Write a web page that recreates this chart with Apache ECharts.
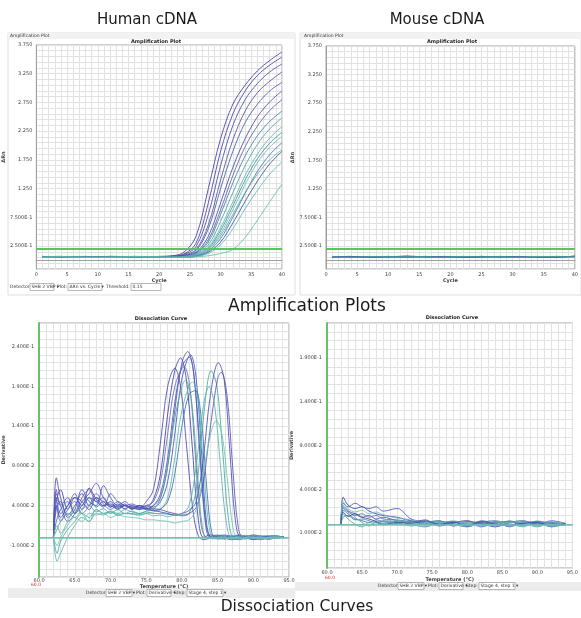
<!DOCTYPE html>
<html>
<head>
<meta charset="utf-8">
<script src="https://cdn.jsdelivr.net/npm/echarts@6/dist/echarts.min.js"></script>
<style>
  html, body { margin: 0; padding: 0; background: #fff; }
  #chart { width: 581px; height: 618px; }
</style>
</head>
<body>
<div id="chart"></div>
<script>
// amplification: delta Rn read at these cycles
const ampCycles = [1, 4, 8, 12, 16, 20, 22, 24, 26, 28, 30, 32, 34, 36, 38, 40];

const humanAmp = [
  [0.06, 0.07, 0.05, 0.06, 0.05, 0.07, 0.08, 0.14, 0.42, 1.25, 2.12, 2.72, 3.05, 3.30, 3.48, 3.63],
  [0.05, 0.06, 0.06, 0.05, 0.06, 0.06, 0.07, 0.11, 0.30, 1.00, 1.90, 2.55, 2.95, 3.22, 3.40, 3.54],
  [0.07, 0.05, 0.06, 0.06, 0.05, 0.06, 0.07, 0.10, 0.24, 0.80, 1.65, 2.35, 2.80, 3.08, 3.28, 3.42],
  [0.06, 0.06, 0.05, 0.07, 0.06, 0.05, 0.06, 0.09, 0.19, 0.62, 1.40, 2.10, 2.60, 2.92, 3.12, 3.28],
  [0.05, 0.06, 0.06, 0.05, 0.05, 0.06, 0.06, 0.08, 0.17, 0.55, 1.25, 1.90, 2.40, 2.72, 2.95, 3.10],
  [0.06, 0.05, 0.06, 0.06, 0.07, 0.06, 0.06, 0.08, 0.14, 0.42, 1.00, 1.62, 2.12, 2.50, 2.76, 2.95],
  [0.06, 0.06, 0.05, 0.06, 0.05, 0.06, 0.07, 0.07, 0.13, 0.36, 0.88, 1.48, 1.98, 2.34, 2.61, 2.80],
  [0.05, 0.06, 0.07, 0.05, 0.06, 0.05, 0.06, 0.07, 0.12, 0.32, 0.80, 1.35, 1.82, 2.17, 2.42, 2.60],
  [0.06, 0.05, 0.06, 0.06, 0.06, 0.06, 0.05, 0.07, 0.11, 0.27, 0.68, 1.18, 1.65, 2.02, 2.29, 2.48],
  [0.06, 0.06, 0.05, 0.06, 0.05, 0.06, 0.06, 0.06, 0.10, 0.23, 0.57, 1.02, 1.48, 1.85, 2.13, 2.33],
  [0.05, 0.06, 0.06, 0.07, 0.06, 0.05, 0.06, 0.06, 0.09, 0.21, 0.52, 0.95, 1.40, 1.77, 2.04, 2.23],
  [0.06, 0.05, 0.06, 0.05, 0.06, 0.06, 0.05, 0.06, 0.09, 0.19, 0.47, 0.88, 1.32, 1.70, 1.97, 2.16],
  [0.06, 0.06, 0.06, 0.05, 0.05, 0.06, 0.06, 0.06, 0.08, 0.16, 0.38, 0.75, 1.17, 1.55, 1.84, 2.05],
  [0.05, 0.06, 0.05, 0.06, 0.06, 0.05, 0.06, 0.06, 0.08, 0.18, 0.43, 0.80, 1.18, 1.50, 1.75, 1.93],
  [0.06, 0.05, 0.06, 0.06, 0.05, 0.06, 0.06, 0.05, 0.07, 0.14, 0.32, 0.65, 1.03, 1.38, 1.68, 1.90],
  [0.06, 0.06, 0.05, 0.06, 0.06, 0.06, 0.05, 0.06, 0.07, 0.12, 0.27, 0.55, 0.90, 1.22, 1.50, 1.72],
  [0.05, 0.06, 0.06, 0.05, 0.06, 0.06, 0.06, 0.05, 0.06, 0.08, 0.12, 0.19, 0.40, 0.70, 1.02, 1.33]
];
const humanAmpColors = ['#3e3f9c', '#4b3f96', '#3f4fa8', '#5a4a9e', '#3d5fae', '#4a4aa0',
  '#5b62b0', '#3f7fae', '#4aa39a', '#5fb8aa', '#3f8ea6', '#6ac0b2', '#4a6fb0',
  '#58b0a4', '#3f4fa0', '#5fbcaf', '#62bfb1'];

const mouseCycles = [1, 4, 7, 10, 13, 16, 19, 22, 25, 28, 31, 34, 37, 40];
const mouseAmp = [
  [0.06, 0.07, 0.05, 0.06, 0.07, 0.06, 0.05, 0.06, 0.07, 0.06, 0.05, 0.06, 0.06, 0.07],
  [0.05, 0.06, 0.06, 0.05, 0.06, 0.07, 0.06, 0.05, 0.06, 0.07, 0.06, 0.05, 0.07, 0.06],
  [0.07, 0.05, 0.06, 0.07, 0.05, 0.06, 0.07, 0.06, 0.05, 0.06, 0.07, 0.06, 0.05, 0.08],
  [0.06, 0.06, 0.07, 0.06, 0.06, 0.05, 0.06, 0.07, 0.06, 0.05, 0.06, 0.07, 0.06, 0.06],
  [0.05, 0.07, 0.06, 0.06, 0.08, 0.06, 0.06, 0.06, 0.07, 0.06, 0.06, 0.05, 0.06, 0.07],
  [0.06, 0.05, 0.06, 0.07, 0.06, 0.07, 0.05, 0.07, 0.06, 0.07, 0.05, 0.06, 0.07, 0.06]
];
const mouseAmpColors = ['#3e5f9e', '#4a8aa6', '#3f4f9c', '#5aa8a0', '#3d6fa8', '#4a9aa0'];

const threshold = 0.2;

// dissociation: [temperature, derivative]
const humanDiss = [
  [[62,0.002],[62.4,0.075],[63,0.05],[64,0.028],[65,0.04],[66,0.055],[67,0.04],[68,0.05],[69,0.045],[70,0.038],[71,0.042],[72,0.036],[73,0.04],[74,0.037],[75,0.045],[76,0.06],[77,0.12],[78,0.19],[79,0.213],[79.8,0.19],[80.7,0.11],[81.6,0.03],[82.3,0.002],[83,-0.003],[85,0.002],[87,-0.003],[89,0.001],[91,-0.002],[93,0.002],[94.3,-0.001]],
  [[62,0],[62.4,0.045],[63,0.06],[64,0.035],[65,0.05],[66,0.04],[67,0.062],[68,0.048],[69,0.04],[70,0.045],[71,0.035],[72,0.04],[73,0.036],[74,0.04],[75,0.038],[76,0.048],[77,0.08],[78,0.155],[79,0.21],[79.8,0.226],[80.6,0.2],[81.4,0.12],[82.2,0.03],[83,0],[84,0.003],[86,-0.002],[88,0.002],[90,-0.003],[92,0.001],[94.3,0]],
  [[62,0],[62.4,0.06],[63,0.04],[64,0.05],[65,0.03],[66,0.045],[67,0.055],[68,0.068],[69,0.05],[70,0.04],[71,0.038],[72,0.042],[73,0.035],[74,0.04],[75,0.036],[76,0.04],[77,0.05],[78,0.09],[79,0.16],[80,0.22],[80.8,0.234],[81.6,0.21],[82.4,0.12],[83.2,0.025],[84,0],[86,0.003],[88,-0.002],[90,0.002],[92,-0.002],[94.3,0.001]],
  [[62,0],[62.4,0.035],[63,0.045],[64,0.025],[65,0.035],[66,0.06],[67,0.045],[68,0.04],[69,0.065],[70,0.05],[71,0.04],[72,0.045],[73,0.038],[74,0.036],[75,0.04],[76,0.038],[77,0.045],[78,0.07],[79,0.13],[80,0.2],[81.2,0.23],[82,0.2],[82.8,0.1],[83.5,0.015],[84.3,-0.002],[86,0.002],[88,-0.003],[90,0.003],[92,-0.001],[94.3,0]],
  [[62,0],[62.4,0.05],[63,0.03],[64,0.04],[65,0.055],[66,0.035],[67,0.05],[68,0.045],[69,0.038],[70,0.055],[71,0.045],[72,0.04],[73,0.042],[74,0.038],[75,0.036],[76,0.04],[77,0.055],[78,0.1],[79,0.17],[80,0.215],[81,0.227],[81.8,0.195],[82.6,0.1],[83.4,0.015],[84.2,0],[86,-0.002],[88,0.003],[90,-0.002],[92,0.002],[94.3,-0.001]],
  [[62,0],[62.4,0.04],[63,0.02],[64,0.035],[65,0.045],[66,0.03],[67,0.04],[68,0.055],[69,0.042],[70,0.035],[71,0.04],[72,0.036],[73,0.04],[74,0.035],[75,0.04],[76,0.045],[77,0.07],[78,0.13],[79,0.19],[80.3,0.215],[81.1,0.19],[81.9,0.1],[82.7,0.015],[83.5,0],[85,0.003],[87,-0.002],[89,0.002],[91,-0.003],[93,0.001],[94.3,0]],
  [[62,0],[62.5,-0.02],[63,-0.005],[64,0.01],[65,0.02],[66,0.03],[67,0.025],[68,0.035],[69,0.03],[70,0.033],[71,0.03],[72,0.035],[73,0.032],[74,0.03],[75,0.033],[76,0.035],[77,0.05],[78,0.09],[79,0.15],[80,0.19],[80.5,0.198],[81.3,0.175],[82.1,0.09],[82.9,0.01],[83.7,-0.002],[85,0.002],[87,-0.003],[89,0.002],[91,-0.002],[93,0.002],[94.3,0]],
  [[62,0],[62.5,-0.03],[63,-0.02],[64,0],[65,0.015],[66,0.025],[67,0.02],[68,0.03],[69,0.028],[70,0.032],[71,0.028],[72,0.03],[73,0.03],[74,0.028],[75,0.03],[76,0.032],[77,0.035],[78,0.05],[79,0.1],[80,0.16],[81.5,0.196],[82.3,0.17],[83.1,0.08],[83.9,0.008],[84.7,-0.002],[86,0.002],[88,-0.002],[90,0.003],[92,-0.001],[94.3,0.001]],
  [[62,0],[62.4,0.02],[63,0.035],[64,0.045],[65,0.03],[66,0.04],[67,0.05],[68,0.038],[69,0.045],[70,0.04],[71,0.036],[72,0.04],[73,0.037],[74,0.035],[75,0.036],[76,0.034],[77,0.036],[78,0.045],[79,0.08],[80,0.14],[81,0.18],[81.9,0.185],[82.7,0.15],[83.5,0.06],[84.2,0.005],[85,-0.002],[87,0.002],[89,-0.002],[91,0.002],[93,-0.001],[94.3,0]],
  [[62,0],[62.5,0.01],[63,0.02],[64,0.03],[65,0.025],[66,0.035],[67,0.04],[68,0.032],[69,0.036],[70,0.03],[71,0.035],[72,0.03],[73,0.033],[74,0.03],[75,0.032],[76,0.03],[77,0.03],[78,0.029],[79,0.028],[80,0.027],[81,0.03],[82,0.06],[83,0.15],[84.1,0.21],[84.9,0.19],[85.7,0.11],[86.5,0.025],[87.3,0],[89,0.002],[91,-0.002],[93,0.002],[94.3,0]],
  [[62,0],[62.4,0.04],[63,0.025],[64,0.04],[65,0.05],[66,0.045],[67,0.035],[68,0.05],[69,0.04],[70,0.042],[71,0.038],[72,0.04],[73,0.036],[74,0.038],[75,0.035],[76,0.034],[77,0.032],[78,0.03],[79,0.028],[80,0.03],[81,0.034],[82,0.045],[83,0.1],[84,0.18],[85.1,0.22],[85.9,0.2],[86.7,0.11],[87.5,0.02],[88.3,0],[90,0.002],[92,-0.002],[94.3,0.001]],
  [[62,0],[62.4,0.055],[63,0.04],[64,0.02],[65,0.03],[66,0.05],[67,0.06],[68,0.045],[69,0.05],[70,0.038],[71,0.045],[72,0.04],[73,0.038],[74,0.04],[75,0.037],[76,0.036],[77,0.035],[78,0.032],[79,0.03],[80,0.028],[81,0.03],[82,0.038],[83,0.07],[84,0.14],[85,0.2],[85.5,0.208],[86.3,0.18],[87.1,0.09],[87.9,0.012],[88.7,-0.002],[90,0.002],[92,-0.002],[94.3,0]],
  [[62,0],[62.5,-0.01],[63,0],[64,0.015],[65,0.025],[66,0.02],[67,0.03],[68,0.028],[69,0.03],[70,0.025],[71,0.028],[72,0.026],[73,0.025],[74,0.024],[75,0.022],[76,0.022],[77,0.021],[78,0.02],[79,0.018],[80,0.02],[81,0.022],[82,0.035],[83,0.08],[84,0.13],[84.8,0.147],[85.6,0.13],[86.4,0.07],[87.2,0.01],[88,-0.002],[90,0.002],[92,-0.001],[94.3,0]],
  [[62,0],[62.5,0.015],[63,0.005],[64,0.02],[65,0.035],[66,0.03],[67,0.02],[68,0.035],[69,0.03],[70,0.032],[71,0.028],[72,0.03],[73,0.029],[74,0.028],[75,0.03],[76,0.027],[77,0.028],[78,0.026],[79,0.028],[80,0.03],[81,0.04],[82,0.09],[83,0.165],[83.8,0.19],[84.6,0.165],[85.4,0.09],[86.2,0.02],[87,0],[89,0.002],[91,-0.002],[93,0.001],[94.3,0]]
];
const humanDissColors = ['#4b4ab0', '#3d3fa8', '#5a4fb0', '#3f59b8', '#4a5cc0', '#6a6ab8', '#4aa89c',
  '#5bbaa8', '#3b6fb0', '#4aa89c', '#4a4fb8', '#5a55b0', '#6cc2b4', '#5bb5a8'];

const mouseTemps = [62, 62.3, 63, 64, 65, 66, 67, 68, 70, 72, 74, 76, 78, 80, 82, 84, 86, 88, 90, 92, 94];
const mouseDiss = [
  [0, 0.031, 0.022, 0.018, 0.02, 0.015, 0.012, 0.01, 0.008, 0.004, 0.002, 0.004, -0.002, 0.003, 0.001, -0.003, 0.002, 0.004, -0.001, 0.002, 0],
  [0, 0.024, 0.02, 0.024, 0.02, 0.018, 0.02, 0.015, 0.018, 0.006, 0.003, 0, 0.003, -0.002, 0.004, 0.001, -0.002, 0.003, 0, 0.004, 0.001],
  [0, 0.02, 0.015, 0.012, 0.008, 0.01, 0.006, 0.008, 0.004, 0.002, 0.005, -0.002, 0.001, 0.004, -0.003, 0.002, 0.003, -0.002, 0.002, -0.001, 0],
  [0, 0.016, 0.012, 0.006, 0.004, 0.002, 0.005, 0.003, 0.001, 0.004, -0.001, 0.003, 0, -0.003, 0.002, 0.004, 0, -0.002, 0.003, 0.001, -0.001],
  [0, 0.012, 0.006, 0, -0.003, 0.002, 0, 0.003, 0.002, -0.002, 0.002, 0.004, -0.002, 0.001, 0.003, -0.002, 0.002, 0.001, -0.003, 0.002, 0],
  [0, 0.026, 0.018, 0.014, 0.016, 0.012, 0.014, 0.011, 0.007, 0.005, 0.002, 0.001, 0.004, 0, -0.002, 0.003, 0.001, -0.003, 0.004, 0, 0.001],
  [0, 0.008, 0.01, 0.005, 0.006, 0.004, 0.002, 0.004, 0.003, 0, -0.003, 0.002, 0.003, 0, 0.002, -0.001, 0.004, 0, 0.001, -0.003, 0],
  [0, 0.018, 0.014, 0.01, 0.012, 0.008, 0.01, 0.006, 0.005, 0.003, 0.001, -0.001, 0.002, 0.004, 0, 0.003, -0.003, 0.002, 0.003, 0.001, -0.001],
  [0, 0.022, 0.016, 0.008, 0.002, -0.002, 0.003, 0.001, 0.004, 0.002, 0, 0.003, -0.001, 0.002, -0.002, 0.001, 0.002, 0.004, -0.002, 0.003, 0],
  [0, 0.014, 0.009, 0.012, 0.008, 0.006, 0.003, 0, 0.002, 0.001, 0.004, 0, 0.002, -0.002, 0.003, 0, -0.001, 0.001, 0.002, -0.002, 0.001]
];
const mouseDissColors = ['#3b3fa6', '#4a5cc0', '#5b4fae', '#3f6fb5', '#4aa89c', '#6cc2b4', '#3d8aa8', '#6a68b8', '#58b3a6', '#2f4f9e'];

const tiny = { fontSize: 5, color: '#444', fontFamily: 'DejaVu Sans' };

function sciFmt(v) {
  if (Math.abs(v) >= 1) return v.toFixed(3);
  const e = Math.floor(Math.log10(Math.abs(v)) + 1e-9);
  return (v / Math.pow(10, e)).toFixed(3) + 'E' + e;
}
function ampYLabel(v) {
  const k = Math.round((v - 0.25) / 0.1);
  if (k < 0 || k % 5) return '';
  return sciFmt(0.25 + k * 0.1);
}
function dissYLabel(v) {
  const k = Math.round((v + 0.01) / 0.01);
  if (k < 0 || k % 5) return '';
  return sciFmt(-0.01 + k * 0.01);
}

const grids = [
  { left: 31, top: 45, width: 251, height: 224 },
  { left: 326, top: 46, width: 251, height: 223 },
  { left: 33, top: 323, width: 256, height: 254 },
  { left: 327, top: 323, width: 251, height: 245 }
].map(g => Object.assign(g, { show: true, borderColor: '#a0a0a0', borderWidth: 1, backgroundColor: '#fff' }));

const splitLine = { show: true, lineStyle: { color: '#e2e2e2', width: 1 } };

function ampX(i) {
  return {
    gridIndex: i, type: 'value', min: 0, max: 40, interval: 1,
    name: 'Cycle', nameLocation: 'middle', nameGap: 9,
    nameTextStyle: Object.assign({}, tiny, { fontWeight: 'bold' }),
    axisLine: { lineStyle: { color: '#a0a0a0' } }, axisTick: { show: false },
    axisLabel: Object.assign({}, tiny, { margin: 3, formatter: v => (v % 5 === 0 ? String(v) : '') }),
    splitLine
  };
}
function ampY(i) {
  return {
    gridIndex: i, type: 'value', min: -0.15, max: 3.75, interval: 0.1,
    name: 'ΔRn', nameLocation: 'middle', nameGap: 19,
    nameTextStyle: Object.assign({}, tiny, { fontWeight: 'bold' }),
    axisLine: { show: true, lineStyle: { color: '#a0a0a0' } }, axisTick: { show: false },
    axisLabel: Object.assign({}, tiny, { margin: 4, formatter: ampYLabel }),
    splitLine
  };
}
function dissX(i, gap, margin) {
  return {
    gridIndex: i, type: 'value', min: 60, max: 95, interval: 1,
    name: 'Temperature (°C)', nameLocation: 'middle', nameGap: gap,
    nameTextStyle: Object.assign({}, tiny, { fontWeight: 'bold' }),
    axisLine: { lineStyle: { color: '#a0a0a0' } }, axisTick: { show: false },
    axisLabel: Object.assign({}, tiny, { margin: margin, formatter: v => (Math.round(v) % 5 === 0 ? v.toFixed(1) : '') }),
    splitLine
  };
}
function dissY(i, max) {
  return {
    gridIndex: i, type: 'value', min: -0.05, max: max, interval: 0.01,
    name: 'Derivative', nameLocation: 'middle', nameGap: 22,
    nameTextStyle: Object.assign({}, tiny, { fontWeight: 'bold' }),
    axisLine: { show: true, lineStyle: { color: '#6cbf6c', width: 2 } }, axisTick: { show: false },
    axisLabel: Object.assign({}, tiny, { margin: 5, formatter: dissYLabel }),
    splitLine
  };
}

function lineSeries(idx, data, color) {
  return {
    type: 'line', xAxisIndex: idx, yAxisIndex: idx, data: data,
    showSymbol: false, smooth: 0.35, silent: true,
    lineStyle: { color: color, width: 1, opacity: 0.85 }
  };
}
function refLine(value, color, width) {
  return {
    silent: true, symbol: 'none', label: { show: false },
    lineStyle: { color: color, width: width, type: 'solid', opacity: 1 },
    data: [{ yAxis: value }]
  };
}

const series = [];
humanAmp.forEach((vals, i) => {
  series.push(lineSeries(0, ampCycles.map((c, j) => [c, vals[j]]), humanAmpColors[i]));
});
series[0].markLine = refLine(threshold, '#5cc45c', 2);
const mStart = series.length;
mouseAmp.forEach((vals, i) => {
  series.push(lineSeries(1, mouseCycles.map((c, j) => [c, vals[j]]), mouseAmpColors[i]));
});
series[mStart].markLine = refLine(threshold, '#5cc45c', 2);
const hdStart = series.length;
humanDiss.forEach((pts, i) => series.push(lineSeries(2, pts, humanDissColors[i])));
series[hdStart].markLine = refLine(0, '#79c2b6', 1.5);
const mdStart = series.length;
mouseDiss.forEach((vals, i) => {
  series.push(lineSeries(3, mouseTemps.map((t, j) => [t, vals[j]]), mouseDissColors[i]));
});
series[mdStart].markLine = refLine(0, '#79c2b6', 1.5);

function bigText(x, y, text, size) {
  return { type: 'text', x: x, y: y, style: { text: text, fontSize: size, fontFamily: 'DejaVu Sans', fill: '#1a1a1a', textAlign: 'center', textVerticalAlign: 'middle' } };
}
function smallText(x, y, text, bold, fill) {
  return { type: 'text', x: x, y: y, style: { text: text, fontSize: 4.5, fontFamily: 'DejaVu Sans', fontWeight: bold ? 'bold' : 'normal', fill: fill || '#333', textVerticalAlign: 'middle' } };
}
function centerText(x, y, text) {
  return { type: 'text', x: x, y: y, style: { text: text, fontSize: 5, fontFamily: 'DejaVu Sans', fontWeight: 'bold', fill: '#222', textAlign: 'center', textVerticalAlign: 'middle' } };
}
function box(x, y, w, text) {
  return [
    { type: 'rect', shape: { x: x, y: y - 3.5, width: w, height: 7 }, style: { fill: '#fff', stroke: '#8a8a8a', lineWidth: 0.6 } },
    smallText(x + 1.5, y, text)
  ];
}
function frame(x, y, w, h, fill, stroke) {
  return { type: 'rect', z: -10, shape: { x: x, y: y, width: w, height: h }, style: { fill: fill, stroke: stroke || null, lineWidth: 1 } };
}

const graphic = [
  frame(8, 33, 287, 262, '#fff', '#dedede'),
  frame(8, 33, 287, 6, '#f2f2f2'),
  frame(300, 33, 281, 262, '#fff', '#dedede'),
  frame(300, 33, 281, 6, '#f2f2f2'),
  frame(8, 588, 287, 10, '#ececec'),
  frame(295, 582, 286, 9, '#ececec'),
  smallText(10, 36, 'Amplification Plot'),
  smallText(304, 36, 'Amplification Plot'),
  centerText(156, 41.5, 'Amplification Plot'),
  centerText(452, 42, 'Amplification Plot'),
  centerText(161, 319, 'Dissociation Curve'),
  centerText(452, 318, 'Dissociation Curve'),
  smallText(31, 584.5, '60.0', false, '#d03030'),
  smallText(325, 577.5, '60.0', false, '#d03030'),
  smallText(10, 287, 'Detector:'),
  ...box(30, 287, 24, 'SHB 2 VBP ▾'),
  smallText(57, 287, 'Plot:'),
  ...box(68, 287, 34, 'ΔRn vs. Cycle ▾'),
  smallText(106, 287, 'Threshold:'),
  ...box(131, 287, 30, '0.15'),
  smallText(86, 593, 'Detector:'),
  ...box(106, 593, 26, 'SHB 2 VBP ▾'),
  smallText(136, 593, 'Plot:'),
  ...box(147, 593, 24, 'Derivative ▾'),
  smallText(174, 593, 'Step:'),
  ...box(187, 593, 36, 'Stage 4, step 1 ▾'),
  smallText(378, 586, 'Detector:'),
  ...box(398, 586, 26, 'SHB 2 VBP ▾'),
  smallText(428, 586, 'Plot:'),
  ...box(439, 586, 24, 'Derivative ▾'),
  smallText(466, 586, 'Step:'),
  ...box(479, 586, 36, 'Stage 4, step 1 ▾'),
  bigText(147, 20, 'Human cDNA', 15),
  bigText(437, 20, 'Mouse cDNA', 15),
  bigText(307, 307, 'Amplification Plots', 17),
  bigText(297, 607, 'Dissociation Curves', 15.5)
];

const chart = echarts.init(document.getElementById('chart'), null, { renderer: 'canvas' });
chart.setOption({
  backgroundColor: '#fff',
  animation: false,
  grid: grids,
  xAxis: [ampX(0), ampX(1), dissX(2, 7, 1), dissX(3, 9, 2)],
  yAxis: [ampY(0), ampY(1), dissY(2, 0.27), dissY(3, 0.23)],
  series: series,
  graphic: graphic
});
</script>
</body>
</html>
